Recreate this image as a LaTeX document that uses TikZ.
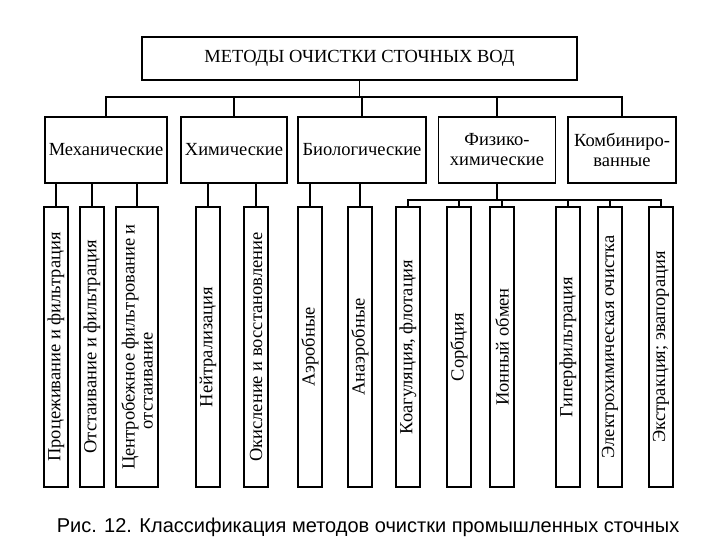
\documentclass[tikz,border=0pt]{standalone}
\usepackage{fontspec}
\setmainfont{Liberation Serif}
\newfontfamily\capfont{Liberation Sans}
\begin{document}
\begin{tikzpicture}[x=1pt,y=-1pt,line width=1.5pt,
    box/.style={rectangle,draw,inner sep=1pt,align=center,font=\fontsize{18.5}{20}\selectfont},
    leaf/.style={rectangle,draw,rotate=90,inner sep=1pt,minimum width=280pt,
      minimum height=24pt,align=left,font=\fontsize{18.5}{18}\selectfont}]
  \useasboundingbox (0,0) rectangle (720,540);
  \node[box,minimum width=435pt,minimum height=43pt] (top) at (359.5,58.5) {МЕТОДЫ ОЧИСТКИ СТОЧНЫХ ВОД};
  \coordinate (hub) at (359.5,97);

  \node[box,minimum width=122pt,minimum height=66pt] (mech) at (106,150) {Механические};
  \node[box,minimum width=106pt,minimum height=66pt] (chem) at (234,150) {Химические};
  \node[box,minimum width=128pt,minimum height=66pt] (bio) at (362,150) {Биологические};
  \node[box,minimum width=117pt,minimum height=66pt] (phys) at (497,150) {Физико-\\химические};
  \node[box,minimum width=108pt,minimum height=66pt] (comb) at (622,150) {Комбиниро-\\ванные};

  \draw (top.south) -- (hub);
  \foreach \n in {mech,chem,bio,phys,comb}
    \draw (\n.north) |- (hub);

  % leaves
  \node[leaf] (l1) at (56,347) {Процеживание и фильтрация};
  \node[leaf] (l2) at (92,347) {Отстаивание и фильтрация};
  \node[leaf,minimum height=42pt] (l3) at (137,347) {Центробежное фильтрование и\\\hspace*{2.2em}отстаивание};
  \node[leaf] (l4) at (208,347) {Нейтрализация};
  \node[leaf] (l5) at (256,347) {Окисление и восстановление};
  \node[leaf] (l6) at (310,347) {Аэробные};
  \node[leaf] (l7) at (360,347) {Анаэробные};
  \node[leaf] (l8) at (408,347) {Коагуляция, флотация};
  \node[leaf] (l9) at (459,347) {Сорбция};
  \node[leaf] (l10) at (502,347) {Ионный обмен};
  \node[leaf] (l11) at (568,347) {Гиперфильтрация};
  \node[leaf] (l12) at (610,347) {Электрохимическая очистка};
  \node[leaf] (l13) at (661,347) {Экстракция; эвапорация};

  \coordinate (phub) at (497,200);
  \foreach \l in {l1,l2,l3} \draw (\l.east) -- (\l.east |- mech.south);
  \foreach \l in {l4,l5} \draw (\l.east) -- (\l.east |- chem.south);
  \foreach \l in {l6,l7} \draw (\l.east) -- (\l.east |- bio.south);
  \draw (phys.south) -- (phub);
  \foreach \l in {l8,l9,l10,l11,l12,l13} \draw (\l.east) |- (phub);

  \node[font=\capfont\fontsize{20}{22}\selectfont] (cap) at (368,527) {Рис. 12. Классификация методов очистки промышленных сточных};
\end{tikzpicture}
\end{document}
